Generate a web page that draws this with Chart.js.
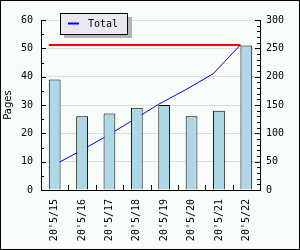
<!DOCTYPE html>
<html>
<head>
<meta charset="utf-8">
<script src="https://cdn.jsdelivr.net/npm/chart.js@4"></script>
<style>
  body { margin: 0; background: #fff; }
  canvas { display: block; }
</style>
</head>
<body>
<canvas id="myChart" width="300" height="250"></canvas>
<script>
// data
const days = ["20'5/15", "20'5/16", "20'5/17", "20'5/18", "20'5/19", "20'5/20", "20'5/21", "20'5/22"];
const pages = [39, 26, 27, 29, 30, 26, 28, 51];
const total = [39, 65, 92, 121, 151, 177, 205, 256];
const totalMax = 256;

const barPct = 0.43;
const half = barPct / 2;

// lines sit on the left edge of each bar
const totalPoints = total.map((v, i) => ({ x: i - half, y: v }));
const maxPoints = [{ x: -half, y: totalMax }, { x: days.length - 1 - half, y: totalMax }];

const bgPlugin = {
  id: 'bg',
  beforeDraw(chart) {
    const ctx = chart.ctx;
    ctx.save();
    ctx.fillStyle = '#f9fdf9';
    ctx.fillRect(0, 0, chart.width, chart.height);
    ctx.restore();
  },
  afterDatasetsDraw(chart) {
    // dotted line inside bars
    const ctx = chart.ctx;
    const meta = chart.getDatasetMeta(0);
    ctx.save();
    ctx.strokeStyle = '#d6b6be';
    ctx.lineWidth = 1;
    ctx.setLineDash([1, 3]);
    meta.data.forEach(bar => {
      const x = Math.round(bar.x) + 0.5;
      ctx.beginPath();
      ctx.moveTo(x, bar.y + 2);
      ctx.lineTo(x, bar.base - 1);
      ctx.stroke();
    });
    ctx.restore();
  },
  afterDraw(chart) {
    const ctx = chart.ctx;
    const a = chart.chartArea;
    const yl = chart.scales.y;
    const yr = chart.scales.y2;
    const x = chart.scales.x;
    ctx.save();
    ctx.strokeStyle = '#000';
    ctx.lineWidth = 1;
    ctx.beginPath();
    for (let v = 0; v <= 60; v += 5) {
      const py = Math.round(yl.getPixelForValue(v)) + 0.5;
      ctx.moveTo(a.left, py);
      ctx.lineTo(a.left + (v % 10 === 0 ? 5 : 3), py);
    }
    for (let v = 0; v <= 300; v += 10) {
      const py = Math.round(yr.getPixelForValue(v)) + 0.5;
      ctx.moveTo(a.right, py);
      ctx.lineTo(a.right - (v % 50 === 0 ? 5 : 3), py);
    }
    for (let i = 1; i < days.length; i++) {
      const px = Math.round((x.getPixelForValue(i - 1) + x.getPixelForValue(i)) / 2) + 0.5;
      ctx.moveTo(px, a.bottom);
      ctx.lineTo(px, a.bottom - 5);
    }
    ctx.stroke();

    // legend box with shadow
    ctx.fillStyle = '#b4b4b4';
    ctx.fillRect(64, 17, 68, 21);
    ctx.fillStyle = '#eae8f0';
    ctx.fillRect(60, 13, 68, 21);
    ctx.strokeRect(60.5, 13.5, 67, 21);
    ctx.strokeStyle = '#0000ff';
    ctx.lineWidth = 2;
    ctx.beginPath();
    ctx.moveTo(68, 23.5);
    ctx.lineTo(79, 23.5);
    ctx.stroke();
    ctx.fillStyle = '#000';
    ctx.font = '10px "DejaVu Sans Mono"';
    ctx.textBaseline = 'middle';
    ctx.fillText(chart.data.datasets[1].label, 88, 24);

    // outer frame
    ctx.strokeStyle = '#000';
    ctx.lineWidth = 1;
    ctx.strokeRect(0.5, 0.5, chart.width - 1, chart.height - 1);
    ctx.restore();
  }
};

Chart.defaults.font.family = '"DejaVu Sans Mono"';
Chart.defaults.font.size = 10;
Chart.defaults.color = '#000';

const canvas = document.getElementById('myChart');
const ctx = canvas.getContext('2d');

const chart = new Chart(ctx, {
  type: 'bar',
  data: {
    labels: days,
    datasets: [{
      label: 'Pages',
      data: pages,
      backgroundColor: '#add8e6',
      borderColor: '#000',
      borderWidth: 1,
      barPercentage: barPct,
      categoryPercentage: 1,
      grouped: false,
      order: 0
    }, {
      type: 'line',
      label: 'Total',
      data: totalPoints,
      xAxisID: 'x2',
      yAxisID: 'y2',
      borderColor: '#0000ff',
      borderWidth: 1,
      pointRadius: 0,
      tension: 0,
      order: 1
    }, {
      type: 'line',
      label: 'Max',
      data: maxPoints,
      xAxisID: 'x2',
      yAxisID: 'y2',
      borderColor: '#ff0000',
      borderWidth: 2,
      pointRadius: 0,
      order: 2
    }]
  },
  options: {
    responsive: false,
    animation: false,
    devicePixelRatio: 1,
    layout: { padding: { top: 20, left: 0, right: 0, bottom: 0 } },
    plugins: {
      legend: { display: false },
      tooltip: { enabled: false }
    },
    scales: {
      x: {
        offset: true,
        grid: { display: true, drawOnChartArea: false, drawTicks: false },
        border: { display: true, color: '#000', width: 1 },
        ticks: { minRotation: 90, maxRotation: 90, padding: 9, autoSkip: false },
        afterFit(s) { s.height = 60; }
      },
      x2: {
        type: 'linear',
        display: false,
        offset: false,
        grid: { offset: false },
        min: -0.5,
        max: days.length - 0.5
      },
      y: {
        position: 'left',
        min: 0,
        max: 60,
        ticks: { stepSize: 10, padding: 8 },
        grid: { color: '#dddddd', drawTicks: false },
        border: { display: true, color: '#000', width: 1 },
        title: {
          display: true,
          text: 'Pages',
          font: { family: '"DejaVu Sans"', size: 10 },
          padding: { top: 2, bottom: 0 }
        },
        afterFit(s) { s.width = 41; }
      },
      y2: {
        position: 'right',
        min: 0,
        max: 300,
        ticks: { stepSize: 50, padding: 6 },
        grid: { drawOnChartArea: false, drawTicks: false },
        border: { display: true, color: '#000', width: 1 },
        afterFit(s) { s.width = 40; }
      }
    }
  },
  plugins: [bgPlugin]
});
</script>
</body>
</html>
